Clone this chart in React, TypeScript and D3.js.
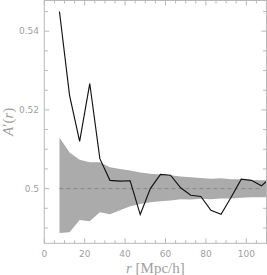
import React from 'react';
import * as d3 from 'd3';

// separation bins (Mpc/h)
const radii = [
  7.5, 12.5, 17.5, 22.5, 27.5, 32.5, 37.5, 42.5, 47.5, 52.5, 57.5, 62.5, 67.5,
  72.5, 77.5, 82.5, 87.5, 92.5, 97.5, 102.5, 107.5, 112.5,
];

// measured A'(r)
const measured = [
  0.545, 0.5237, 0.512, 0.5267, 0.5076, 0.5021, 0.5019, 0.502, 0.4934, 0.5,
  0.5036, 0.5034, 0.5002, 0.4983, 0.498, 0.4945, 0.4935, 0.4978, 0.5024,
  0.5021, 0.5007, 0.503,
];

// random-catalogue envelope
const bandUpper = [
  0.513, 0.5092, 0.5073, 0.5067, 0.5067, 0.5054, 0.505, 0.5046, 0.5041,
  0.5038, 0.5036, 0.5034, 0.5031, 0.5029, 0.5027, 0.5025, 0.5026, 0.5024,
  0.5024, 0.5022, 0.5021, 0.5021,
];
const bandLower = [
  0.4887, 0.4889, 0.492, 0.4917, 0.494, 0.4935, 0.4945, 0.4955, 0.4961,
  0.4965, 0.4968, 0.497, 0.4973, 0.4972, 0.4974, 0.4973, 0.4975, 0.4975,
  0.4977, 0.4978, 0.4978, 0.4979,
];
const expected = 0.5;

const xTicks = [0, 20, 40, 60, 80, 100];
const yTicks = [0.5, 0.52, 0.54];

export default function App() {
  const width = 267;
  const height = 275;
  const left = 44.3;
  const right = 266.5;
  const top = 0.5;
  const bottom = 243.3;

  const x = d3.scaleLinear().domain([0, 110]).range([left, right]);
  const y = d3.scaleLinear().domain([0.4861, 0.5478]).range([bottom, top]);

  const xMinor = d3.range(0, 111, 5);
  const yMinor = d3.range(0.49, 0.5478, 0.005);

  const area = d3
    .area<number>()
    .x((_, i) => x(radii[i]))
    .y0((_, i) => y(bandLower[i]))
    .y1((_, i) => y(bandUpper[i]));

  const line = d3
    .line<number>()
    .x((_, i) => x(radii[i]))
    .y((d) => y(d));

  const axisColor = '#b8b8b8';
  const labelColor = '#a0a0a0';

  return (
    <svg
      width={width}
      height={height}
      style={{ position: 'absolute', left: 0, top: 0, background: '#fff' }}
    >
      <defs>
        <clipPath id="plot">
          <rect x={left} y={top} width={right - left} height={bottom - top} />
        </clipPath>
      </defs>

      <g clipPath="url(#plot)">
        <path d={area(radii) || ''} fill="#ababab" stroke="none" />
        <line
          x1={x(radii[0])}
          x2={x(radii[radii.length - 1])}
          y1={y(expected)}
          y2={y(expected)}
          stroke="#888"
          strokeWidth={1}
          strokeDasharray="4,3"
        />
        <path d={line(measured) || ''} fill="none" stroke="#111" strokeWidth={1.15} />
      </g>

      {/* frame */}
      <rect
        x={left}
        y={top}
        width={right - left}
        height={bottom - top}
        fill="none"
        stroke={axisColor}
        strokeWidth={1}
      />

      {/* x ticks, bottom and top */}
      {xMinor.map((t) => {
        const major = t % 20 === 0;
        const len = major ? 5 : 3;
        return (
          <g key={'x' + t} stroke={axisColor} strokeWidth={1}>
            <line x1={x(t)} x2={x(t)} y1={bottom} y2={bottom - len} />
            <line x1={x(t)} x2={x(t)} y1={top} y2={top + len} />
          </g>
        );
      })}

      {/* y ticks, left and right */}
      {yMinor.map((t) => {
        const major = Math.abs(Math.round(t * 100) - t * 100) < 1e-6 && Math.round(t * 100) % 2 === 0;
        const len = major ? 5 : 3.5;
        return (
          <g key={'y' + t} stroke={axisColor} strokeWidth={1}>
            <line x1={left} x2={left + len} y1={y(t)} y2={y(t)} />
            <line x1={right} x2={right - len} y1={y(t)} y2={y(t)} />
          </g>
        );
      })}

      {xTicks.map((t) => (
        <text
          key={'xl' + t}
          x={x(t)}
          y={256.5}
          textAnchor="middle"
          fontFamily="DejaVu Sans"
          fontSize={9}
          fill={labelColor}
        >
          {t}
        </text>
      ))}

      {yTicks.map((t) => (
        <text
          key={'yl' + t}
          x={39}
          y={y(t) + 3.3}
          textAnchor="end"
          fontFamily="DejaVu Sans"
          fontSize={9}
          fill={labelColor}
        >
          {t === 0.5 ? '0.5' : t.toFixed(2)}
        </text>
      ))}

      <text
        x={(left + right) / 2}
        y={272.5}
        textAnchor="middle"
        fontFamily="Liberation Serif"
        fontSize={15}
        fill={labelColor}
      >
        <tspan fontStyle="italic">r</tspan> [Mpc/h]
      </text>

      <text
        transform={`translate(13, ${(top + bottom) / 2}) rotate(-90)`}
        textAnchor="middle"
        fontFamily="Liberation Serif"
        fontSize={15}
        fill={labelColor}
      >
        <tspan fontStyle="italic">A</tspan>′(<tspan fontStyle="italic">r</tspan>)
      </text>
    </svg>
  );
}
